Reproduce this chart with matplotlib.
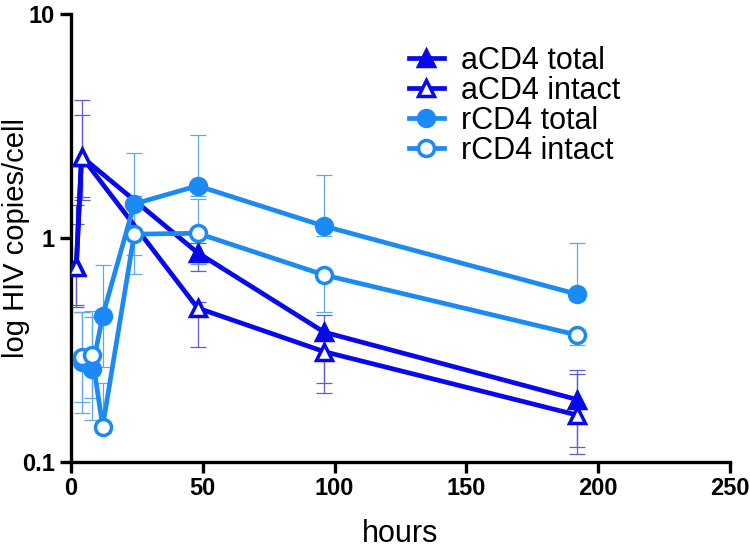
import numpy as np
import matplotlib
matplotlib.use('Agg')
import matplotlib.pyplot as plt

plt.rcParams['font.family'] = ['Liberation Sans', 'DejaVu Sans']

# time points (hours)
hours_a = [2, 4, 48, 96, 192]
hours_r = [4, 8, 12, 24, 48, 96, 192]

# aCD4 series, mean and error bar ends
a_total = [0.75, 2.31, 0.86, 0.38, 0.19]
a_total_lo = [0.49, 1.53, 0.715, 0.226, 0.117]
a_total_hi = [1.40, 4.13, 0.95, 0.454, 0.257]
a_intact = [0.745, 2.31, 0.487, 0.311, 0.162]
a_intact_lo = [0.50, 1.48, 0.327, 0.204, 0.108]
a_intact_hi = [1.15, 3.54, 0.52, 0.35, 0.247]

# rCD4 series
r_total = [0.28, 0.259, 0.449, 1.42, 1.71, 1.13, 0.561]
r_total_lo = [0.186, 0.193, 0.266, 0.84, 1.54, 1.02, 0.53]
r_total_hi = [0.469, 0.445, 0.757, 2.40, 2.88, 1.91, 0.953]
r_intact = [0.295, 0.30, 0.144, 1.04, 1.05, 0.684, 0.369]
r_intact_lo = [0.166, 0.154, 0.135, 0.69, 0.765, 0.469, 0.333]
r_intact_hi = [0.465, 0.47, 0.225, 1.54, 1.49, 0.72, 0.39]

x_ticks = [0, 50, 100, 150, 200, 250]
y_ticks = [0.1, 1, 10]
y_ticklabels = ['0.1', '1', '10']

dark = '#0808ec'
light = '#1c8af4'
dark_err = '#5c5cd6'
light_err = '#5fa8ee'

fig = plt.figure(figsize=(7.5, 5.49), dpi=100)
ax = fig.add_axes([0.0947, 0.1585, 0.8786, 0.816])


def err(vals, lo, hi):
    v = np.array(vals)
    return [v - np.array(lo), np.array(hi) - v]


series = [
    (hours_a, a_total, a_total_lo, a_total_hi, dark, dark_err, '^', dark, 'aCD4 total'),
    (hours_a, a_intact, a_intact_lo, a_intact_hi, dark, dark_err, '^', 'white', 'aCD4 intact'),
    (hours_r, r_total, r_total_lo, r_total_hi, light, light_err, 'o', light, 'rCD4 total'),
    (hours_r, r_intact, r_intact_lo, r_intact_hi, light, light_err, 'o', 'white', 'rCD4 intact'),
]

z = 3
for x, y, lo, hi, c, ec, m, fc, lab in series:
    ax.errorbar(x, y, yerr=err(y, lo, hi), fmt='none', ecolor=ec,
                elinewidth=0.9, capsize=6, capthick=0.9, zorder=2)
    ms = 12 if m == '^' else 11.5
    ax.plot(x, y, color=c, lw=3.4, marker=m, markersize=ms,
            markerfacecolor=fc, markeredgecolor=c, markeredgewidth=2.5,
            label=lab, zorder=z)
    z += 1

ax.set_yscale('log')
ax.set_xlim(0, 250)
ax.set_ylim(0.1, 10)
ax.set_xticks(x_ticks)
ax.set_yticks(y_ticks)
ax.set_yticklabels(y_ticklabels)
ax.yaxis.set_minor_locator(matplotlib.ticker.NullLocator())

for s in ['top', 'right']:
    ax.spines[s].set_visible(False)
for s in ['left', 'bottom']:
    ax.spines[s].set_linewidth(2.4)
ax.tick_params(axis='both', direction='out', length=8, width=2.4,
               labelsize=17)
ax.tick_params(axis='x', pad=3)
ax.tick_params(axis='y', pad=3.5)
for lbl in ax.get_xticklabels() + ax.get_yticklabels():
    lbl.set_fontweight('bold')

ax.set_xlabel('hours', fontsize=22)
ax.set_ylabel('log HIV copies/cell', fontsize=21)
ax.xaxis.set_label_coords(0.5, -0.128)
ax.yaxis.set_label_coords(-0.062, 0.5)

leg = ax.legend(loc='upper left', bbox_to_anchor=(0.545, 0.916),
                bbox_transform=fig.transFigure, frameon=False, fontsize=22,
                handlelength=1.15, handletextpad=0.55, labelspacing=0.0,
                borderpad=0, borderaxespad=0)

fig.savefig('out.png', dpi=100)
